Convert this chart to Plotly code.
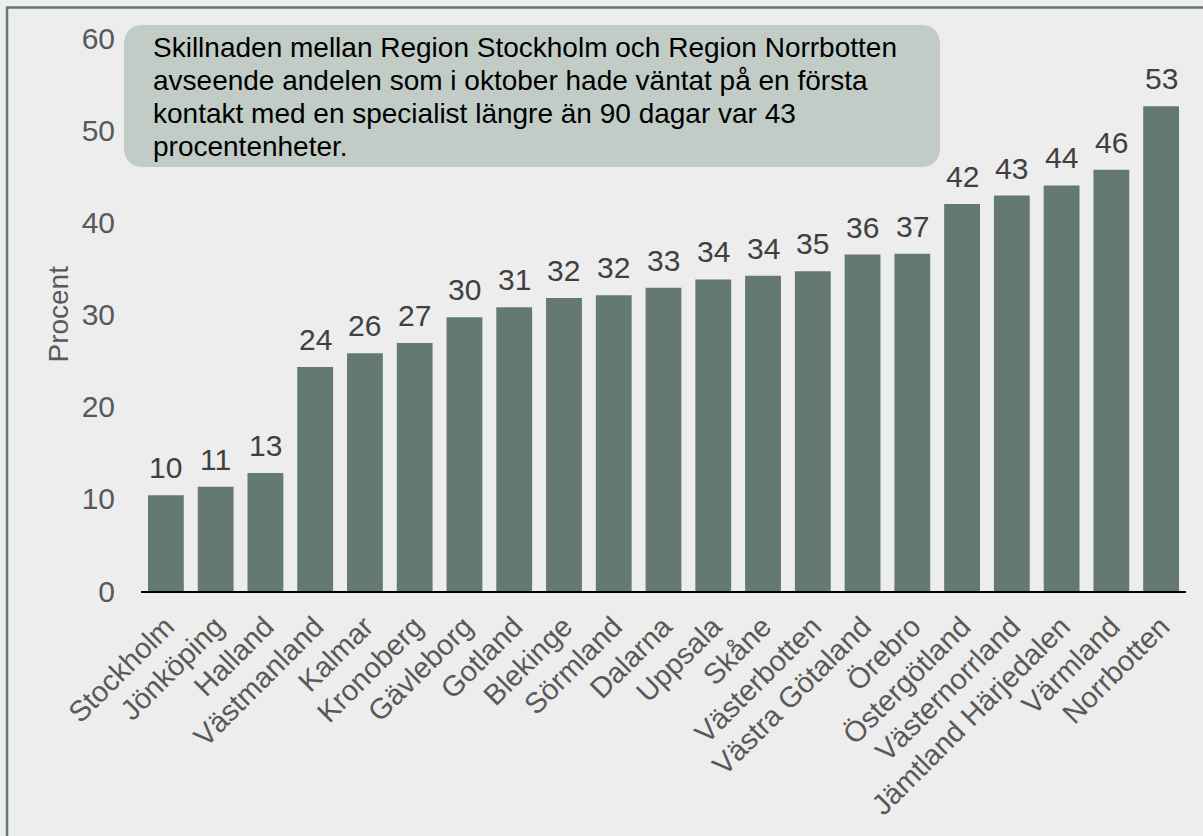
import plotly.graph_objects as go

regions = [
    "Stockholm", "Jönköping", "Halland", "Västmanland", "Kalmar", "Kronoberg",
    "Gävleborg", "Gotland", "Blekinge", "Sörmland", "Dalarna", "Uppsala",
    "Skåne", "Västerbotten", "Västra Götaland", "Örebro", "Östergötland",
    "Västernorrland", "Jämtland Härjedalen", "Värmland", "Norrbotten",
]
andel = [
    10.4, 11.3, 12.8, 24.3, 25.8, 26.9,
    29.7, 30.8, 31.8, 32.1, 32.9, 33.8,
    34.2, 34.7, 36.5, 36.6, 42.0,
    42.9, 44.0, 45.7, 52.6,
]
y_ticks = [0, 10, 20, 30, 40, 50, 60]
info_lines = [
    "Skillnaden mellan Region Stockholm och Region Norrbotten",
    "avseende andelen som i oktober hade väntat på en första",
    "kontakt med en specialist längre än 90 dagar var 43",
    "procentenheter.",
]

FONT = "Liberation Sans, Arial, sans-serif"
BAR = "#647A70"
BG = "#EDEDED"
FRAME = "#65786F"

fig = go.Figure()
fig.add_trace(
    go.Bar(
        x=regions,
        y=andel,
        marker=dict(color=BAR, line=dict(width=0)),
        hoverinfo="x+y",
        showlegend=False,
    )
)

# data labels, rounded like in the original
for reg, val in zip(regions, andel):
    fig.add_annotation(
        x=reg, y=val, text=f"{val:.0f}", showarrow=False,
        yanchor="bottom", yshift=9,
        font=dict(family=FONT, size=30, color="#404040"),
    )

# frame around the chart (bottom/right outside the picture)
fig.add_shape(
    type="rect", xref="paper", yref="paper",
    x0=-0.1282, x1=1.2, y0=-0.6, y1=1.0552,
    line=dict(color=FRAME, width=2.5), fillcolor="rgba(0,0,0,0)", layer="below",
)

# rounded info box, in pixels relative to the top left of the plot area
x0, x1, yb, yt, r = -17, 799, -129, 13, 20
box_path = (
    f"M {x0 + r},{yt} L {x1 - r},{yt} Q {x1},{yt} {x1},{yt - r} "
    f"L {x1},{yb + r} Q {x1},{yb} {x1 - r},{yb} L {x0 + r},{yb} "
    f"Q {x0},{yb} {x0},{yb + r} L {x0},{yt - r} Q {x0},{yt} {x0 + r},{yt} Z"
)
fig.add_shape(
    type="path", path=box_path,
    xref="paper", yref="paper", xsizemode="pixel", ysizemode="pixel",
    xanchor=0, yanchor=1,
    fillcolor="#C2CCC7", line=dict(width=0), layer="above",
)
for i, line in enumerate(info_lines):
    fig.add_annotation(
        xref="paper", yref="paper", x=0.0096, y=1,
        xanchor="left", yanchor="middle",
        yshift=-9 - 33.3 * i,
        text=line, showarrow=False, align="left",
        font=dict(family=FONT, size=28, color="#000000"),
    )

# y axis title
fig.add_annotation(
    xref="paper", yref="paper", x=-0.0794, y=0.5,
    text="Procent", textangle=-90, showarrow=False,
    xanchor="center", yanchor="middle",
    font=dict(family=FONT, size=28, color="#595959"),
)

fig.update_layout(
    width=1203,
    height=836,
    margin=dict(l=141, r=17, t=38, b=245),
    paper_bgcolor=BG,
    plot_bgcolor=BG,
    bargap=0.28,
    font=dict(family=FONT, size=28, color="#595959"),
)
fig.update_xaxes(
    type="category",
    range=[-0.5, len(regions) - 0.5],
    showgrid=False,
    showline=True,
    linecolor="#000000",
    linewidth=2,
    tickangle=-45,
    ticks="outside",
    ticklen=5,
    tickcolor="rgba(0,0,0,0)",
    tickfont=dict(family=FONT, size=29, color="#595959"),
    fixedrange=True,
)
fig.update_yaxes(
    range=[0, 60],
    tickvals=y_ticks,
    showgrid=False,
    zeroline=False,
    showline=False,
    ticks="outside",
    ticklen=19,
    tickcolor="rgba(0,0,0,0)",
    tickfont=dict(family=FONT, size=30, color="#595959"),
    fixedrange=True,
)

# no page margin, so the figure fills the window like the reference
fig.write_html(
    "out.html",
    config={"displayModeBar": False},
    post_script="document.body.style.margin='0';document.body.style.background='#EDEDED';",
)
